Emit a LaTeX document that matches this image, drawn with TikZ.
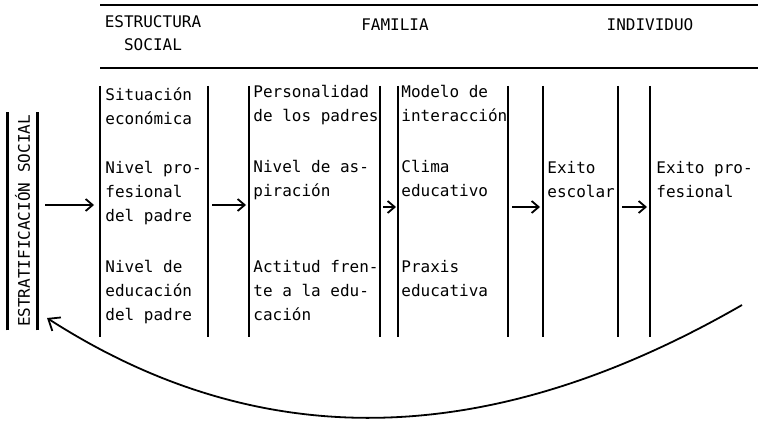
\documentclass[tikz,border=0pt]{standalone}
\usepackage{fontspec}
\setmonofont{DejaVu Sans Mono}
\usetikzlibrary{arrows.meta}
\begin{document}
\begin{tikzpicture}[x=0.5pt,y=-0.5pt,
 txt/.style={font=\ttfamily\fontsize{8}{12}\selectfont, inner sep=0pt, align=left, anchor=north west, execute at begin node=\strut},
 hdr/.style={font=\ttfamily\fontsize{8}{11.5}\selectfont, inner sep=0pt},
 vline/.style={line width=1.3pt},
 hline/.style={line width=0.9pt},
 arr/.style={-{Straight Barb[length=3.5pt,width=6pt]}, line width=0.9pt},
 back/.style={-{Straight Barb[length=5pt,width=8pt]}, line width=0.9pt},
]
\useasboundingbox (0,0) rectangle (758,422);

% header
\coordinate (htl) at (100,5);   \coordinate (htr) at (758,5);
\coordinate (hbl) at (100,68);  \coordinate (hbr) at (758,68);
\draw[hline] (htl) -- (htr);
\draw[hline] (hbl) -- (hbr);
\node[hdr, align=center, anchor=north, execute at begin node=\strut] (hest) at (153,15) {ESTRUCTURA\\SOCIAL};
\node[hdr, anchor=base] (hfam) at (395,31) {FAMILIA};
\node[hdr, anchor=base] (hind) at (650,31) {INDIVIDUO};

% label box
\node[hdr, rotate=90, minimum width=109pt, minimum height=14.5pt] (strat) at (22.5,221) {ESTRATIFICACIÓN SOCIAL};
\draw[vline] (strat.north west) -- (strat.north east);
\draw[vline] (strat.south west) -- (strat.south east);

% column lines
\foreach \n/\x in {c1l/100,c1r/208,c2l/249,c2r/380,c3l/398,c3r/508,c4l/543,c4r/618,c5l/650}{
  \coordinate (\n t) at (\x,86);
  \coordinate (\n b) at (\x,337);
  \draw[vline] (\n t) -- (\n b);
}

% texts
\node[txt] (a1) at (105,87)  {Situación\\económica};
\node[txt] (a2) at (105,161) {Nivel pro-\\fesional\\del padre};
\node[txt] (a3) at (105,260) {Nivel de\\educación\\del padre};
\node[txt] (b1) at (253,85)  {Personalidad\\de los padres};
\node[txt] (b2) at (253,160) {Nivel de as-\\piración};
\node[txt] (b3) at (253,260) {Actitud fren-\\te a la edu-\\cación};
\node[txt] (d1) at (401,85)  {Modelo de\\interacción};
\node[txt] (d2) at (401,160) {Clima\\educativo};
\node[txt] (d3) at (401,260) {Praxis\\educativa};
\node[txt] (e1) at (547,161) {Exito\\escolar};
\node[txt] (f1) at (656,161) {Exito pro-\\fesional};

% arrows
\coordinate (s0) at (45,205);  \coordinate (t0) at (94,205);
\coordinate (s1) at (212,205); \coordinate (t1) at (246,205);
\coordinate (s2) at (383,207); \coordinate (t2) at (396,207);
\coordinate (s3) at (512,207); \coordinate (t3) at (540,207);
\coordinate (s4) at (622,207); \coordinate (t4) at (647,207);
\draw[arr] (s0) -- (t0);
\draw[arr] (s1) -- (t1);
\draw[arr] (s2) -- (t2);
\draw[arr] (s3) -- (t3);
\draw[arr] (s4) -- (t4);

% feedback curve
\coordinate (rc) at (742,305);
\coordinate (lc) at (47,318);
\draw[back] (rc) .. controls (485,453) and (257,453) .. (lc);
\end{tikzpicture}
\end{document}
